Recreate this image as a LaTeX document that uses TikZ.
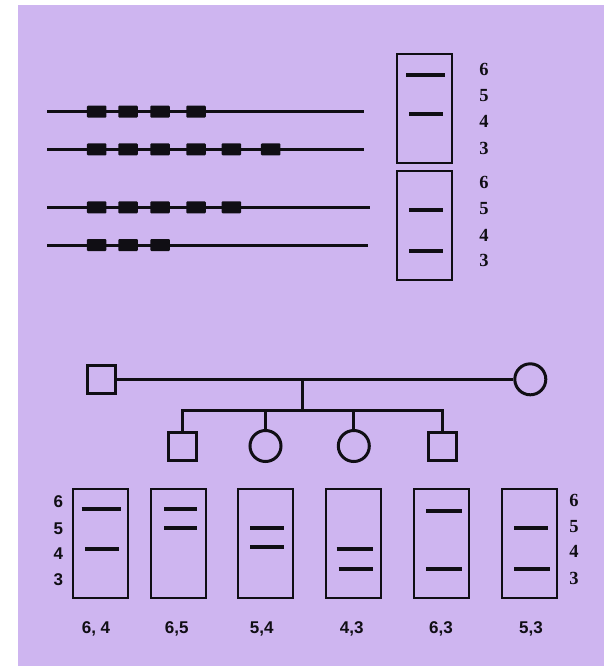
\documentclass[tikz,border=0pt]{standalone}
\usepackage{fontspec}
\setmainfont{Liberation Serif}
\setsansfont{Liberation Sans}
\definecolor{lav}{RGB}{206,181,240}
\definecolor{ink}{RGB}{16,14,20}
\begin{document}
\begin{tikzpicture}[x=1pt,y=-1pt,
  chrom/.style={draw=ink,line width=3pt},
  block/.style={fill=ink,minimum width=19.5pt,minimum height=12pt,inner sep=0pt,rounded corners=1pt},
  gel/.style={draw=ink,line width=2pt,minimum width=55pt,minimum height=109pt,inner sep=0pt},
  band/.style={draw=ink,line width=4pt},
  serlab/.style={font=\fontsize{18.5}{18.5}\selectfont\rmfamily\bfseries,text=ink,inner sep=0pt},
  sanlab/.style={font=\fontsize{17}{17}\selectfont\sffamily\bfseries,text=ink,inner sep=0pt},
  male/.style={draw=ink,line width=3pt,minimum size=28pt,inner sep=0pt},
  female/.style={draw=ink,line width=3pt,circle,minimum size=31pt,inner sep=0pt},
  ped/.style={draw=ink,line width=3pt}]
\useasboundingbox (0,0) rectangle (604,666);
\fill[lav] (18,5) rectangle (604,666);

% chromosomes
\draw[chrom] (47.3,111.7) -- (364.3,111.7);
\draw[chrom] (47.3,149.3) -- (364.3,149.3);
\draw[chrom] (47.3,207.3) -- (370,207.3);
\draw[chrom] (47.3,245) -- (368.3,245);
\foreach \x [count=\i] in {96.7,128,160,196} \node[block] (a\i) at (\x,111.7) {};
\foreach \x [count=\i] in {96.7,128,160,196,231.3,270.7} \node[block] (b\i) at (\x,149.3) {};
\foreach \x [count=\i] in {96.7,128,160,196,231.3} \node[block] (c\i) at (\x,207.3) {};
\foreach \x [count=\i] in {96.7,128,160} \node[block] (d\i) at (\x,245) {};

% top-right gels
\node[gel] (t1) at (424.2,108.7) {};
\node[gel] (t2) at (424.2,225.5) {};
\draw[band] (406,74.7) -- (445,74.7);
\draw[band] (409.3,114) -- (443.3,114);
\draw[band] (409.3,210.3) -- (443.3,210.3);
\draw[band] (409.3,251.3) -- (443.3,251.3);
\foreach \y/\t in {69.3/6,96/5,121.7/4,148.3/3,182.7/6,208.7/5,235/4,260.7/3}
  \node[serlab] at (484,\y) {\t};

% pedigree
\node[male] (F) at (101.7,379.3) {};
\node[female] (M) at (530.3,379.3) {};
\draw[ped] (F.east) -- (M.west);
\coordinate (mid) at (302.7,379.3);
\coordinate (sib) at (302.7,410);
\draw[ped] (mid) -- (sib);
\node[male] (s1) at (182.3,446) {};
\node[female] (s2) at (265.5,446) {};
\node[female] (s3) at (353.8,446) {};
\node[male] (s4) at (442.2,446) {};
\draw[ped] (s1.north) |- (sib) -| (s4.north);
\draw[ped] (s2.north) -- (s2.north |- sib);
\draw[ped] (s3.north) -- (s3.north |- sib);

% bottom gels
\foreach \x [count=\i] in {100,178.8,265,353,441.2,529.2} \node[gel] (g\i) at (\x,543) {};
\draw[band] (81.7,509) -- (120.7,509);
\draw[band] (85,548.7) -- (119,548.7);
\draw[band] (164,509) -- (197.3,509);
\draw[band] (164,528) -- (197.3,528);
\draw[band] (250,528) -- (284,528);
\draw[band] (250,547) -- (284,547);
\draw[band] (336.7,548.7) -- (373.3,548.7);
\draw[band] (338.7,569.3) -- (373.3,569.3);
\draw[band] (426,511) -- (461.7,511);
\draw[band] (426,569.3) -- (461.7,569.3);
\draw[band] (514.3,527.7) -- (548,527.7);
\draw[band] (514.3,569.3) -- (550,569.3);
\foreach \y/\t in {501.7/6,528.3/5,553.3/4,579.3/3}
  \node[sanlab] at (58.3,\y) {\t};
\foreach \y/\t in {500/6,526.7/5,551.7/4,578.3/3}
  \node[serlab] at (574,\y) {\t};
\foreach \x/\t in {96/{6, 4},176.7/{6,5},261.7/{5,4},351.7/{4,3},441/{6,3},531/{5,3}}
  \node[sanlab] at (\x,629.3) {\t};
\end{tikzpicture}
\end{document}
